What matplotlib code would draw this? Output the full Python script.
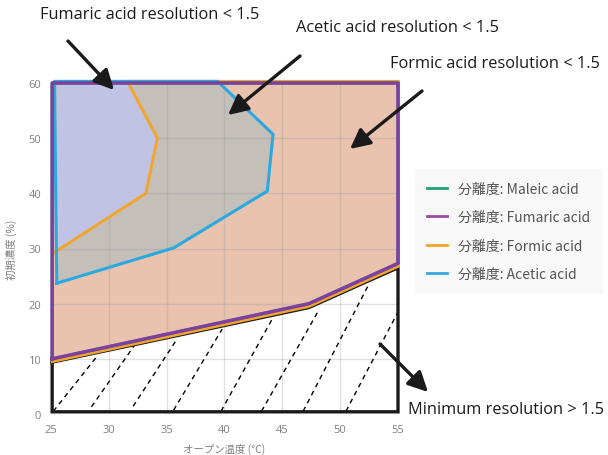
import numpy as np
import matplotlib.pyplot as plt
from matplotlib.lines import Line2D

# 初期濃度 vs オーブン温度 の分離度 < 1.5 領域
fumaric_x = [25.1, 25.1, 55, 55, 47.3, 25.1]
fumaric_y = [10, 60, 60, 27.3, 20, 10]

formic_x = [25.3, 33.2, 34.2, 31.6, 55.05, 55.05, 47.3, 25.1]
formic_y = [29.3, 40, 50, 60.3, 60.3, 26.8, 19.5, 9.5]

acetic_x = [25.5, 25.3, 39.4, 44.2, 43.7, 35.6, 25.5]
acetic_y = [23.7, 60.3, 60.3, 50.7, 40.4, 30.1, 23.7]

inner_x = [25.5, 25.5, 31.6, 34.2, 33.2, 25.5]
inner_y = [29.3, 60, 60, 50, 40, 29.3]

min_x = [25.1, 25.1, 55, 55, 52.3, 47.3, 25.1]
min_y = [9.4, 0.4, 0.4, 26.5, 24, 19.3, 9.4]

# 斜線 (x0, y0, x1, y1)
hatch = [(25.2, 0.5, 29.0, 10.5), (28.5, 1.3, 32.3, 12.7), (32.1, 1.4, 35.9, 13.6),
         (35.6, 0.7, 39.8, 15.4), (39.7, 0.5, 44.2, 17.5), (43.2, 0.5, 48.2, 19.0),
         (46.8, 0.5, 52.5, 23.6), (50.5, 0.5, 55.0, 18.5)]

names = ['Maleic acid', 'Fumaric acid', 'Formic acid', 'Acetic acid']
colors = ['#1aa67a', '#7e3f9f', '#f2a52a', '#29a9df']
leg_colors = ['#1aa67a', '#9b4aa6', '#f2a52a', '#3aa8dc']

xticks = [25, 30, 35, 40, 45, 50, 55]
yticks = [0, 10, 20, 30, 40, 50, 60]

plt.rcParams['font.family'] = ['Noto Sans CJK JP', 'DejaVu Sans']

fig = plt.figure(figsize=(6.08, 4.56), dpi=100)
ax = fig.add_axes([51 / 608, 41 / 456, 347 / 608, 331 / 456])
ax.set_xlim(25, 55)
ax.set_ylim(0, 60)

ax.fill(fumaric_x, fumaric_y, color='#e9c3ae', lw=0, zorder=1)
ax.fill(acetic_x, acetic_y, color='#c5bfba', lw=0, zorder=2)
ax.fill(inner_x, inner_y, color='#c0c3e3', lw=0, zorder=3)

ax.set_xticks(xticks)
ax.set_yticks(yticks)
ax.grid(True, color='#999999', alpha=0.3, lw=1, zorder=4)
ax.set_axisbelow(False)
for s in ax.spines.values():
    s.set_visible(False)
ax.tick_params(length=0, labelsize=8, labelcolor='#808080', pad=7)
for lab in ax.get_xticklabels() + ax.get_yticklabels():
    lab.set_fontfamily('Open Sans')
ax.set_xlabel('オープン温度 (°C)', fontsize=7.5, color='#808080', labelpad=6)
ax.set_ylabel('初期濃度 (%)', fontsize=7.5, color='#808080', labelpad=8)

for x0, y0, x1, y1 in hatch:
    ax.plot([x0, x1], [y0, y1], color='black', lw=1, ls=(0, (3.5, 3)), zorder=5)

ax.plot(min_x, min_y, color='#1a1a1a', lw=2.4, zorder=6, clip_on=False, solid_joinstyle='miter')
ax.plot(formic_x, formic_y, color=colors[2], lw=2.1, zorder=7, clip_on=False)
ax.plot(acetic_x, acetic_y, color=colors[3], lw=2.2, zorder=8, clip_on=False)
ax.plot(fumaric_x, fumaric_y, color=colors[0], lw=2.2, zorder=9, clip_on=False)
ax.plot(fumaric_x, fumaric_y, color=colors[1], lw=2.5, zorder=10, clip_on=False)

handles = [Line2D([], [], color=c, lw=2) for c in leg_colors]
leg = fig.legend(handles, ['分離度: ' + n for n in names], loc='upper left',
                 bbox_to_anchor=(408 / 608, 1 - 163 / 456), fontsize=10,
                 frameon=True, fancybox=False, handlelength=1.4, handletextpad=0.8,
                 labelspacing=1.05, borderpad=0.9, labelcolor='#555555')
leg.get_frame().set_facecolor('#f7f7f7')
leg.get_frame().set_edgecolor('none')

# 注釈
notes = [('Fumaric acid resolution < 1.5', 40, 15, (68, 42), (114, 91)),
         ('Acetic acid resolution < 1.5', 296, 28, (300, 57), (228, 116)),
         ('Formic acid resolution < 1.5', 390, 64, (422, 92), (350, 150)),
         ('Minimum resolution > 1.5', 408, 410, (380, 345), (428, 393))]
for txt, tx, ty, tail, tip in notes:
    fig.text(tx / 608, 1 - ty / 456, txt, fontsize=11.8, family='Open Sans',
             color='#1a1a1a', va='center', ha='left')
    ax.annotate('', xy=(tip[0], 456 - tip[1]), xycoords='figure pixels',
                xytext=(tail[0], 456 - tail[1]), textcoords='figure pixels',
                arrowprops=dict(arrowstyle='-|>,head_length=1.2,head_width=0.6',
                                color='#1a1a1a', lw=2.4, shrinkA=0, shrinkB=0),
                annotation_clip=False, zorder=20)

fig.savefig('out.png', dpi=100)
